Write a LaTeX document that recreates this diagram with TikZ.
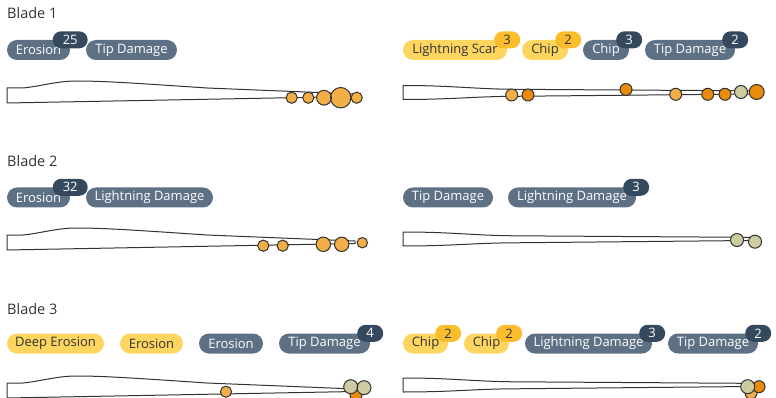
\documentclass[tikz,border=0pt]{standalone}
\usepackage{fontspec}
\setmainfont{Open Sans}
\definecolor{slate}{HTML}{5E7084}
\definecolor{navy}{HTML}{34495E}
\definecolor{paleyel}{HTML}{FDD55F}
\definecolor{deepyel}{HTML}{FBBD2C}
\definecolor{lightorg}{HTML}{F3AE47}
\definecolor{darkorg}{HTML}{EA8A0B}
\definecolor{khaki}{HTML}{CFCBA1}
\definecolor{ink}{HTML}{333333}
\begin{document}
\begin{tikzpicture}[x=1pt,y=-1pt,
    title/.style={anchor=base west,inner sep=0,text=ink,font=\fontsize{14.5}{17}\selectfont},
    tag/.style={fill=slate,text=white,rounded corners=10pt,minimum height=20pt,inner sep=0,font=\fontsize{13}{15}\selectfont},
    tagwarn/.style={tag,fill=paleyel,text=ink},
    count/.style={fill=navy,text=white,rounded corners=8.5pt,minimum height=17pt,minimum width=26pt,inner sep=0,font=\fontsize{13}{15}\selectfont},
    countwarn/.style={count,fill=deepyel,text=ink},
    blade/.style={draw=ink,line width=1pt,fill=white,line join=round},
    dent/.style={draw=ink,line width=1pt},
    minor/.style={dent,fill=lightorg},
    major/.style={dent,fill=darkorg},
    fixed/.style={dent,fill=khaki}]
  \useasboundingbox (0,0) rectangle (776,398);
  \clip (0,0) rectangle (776,398);

  % titles
  \node[title] (t1) at (7,19) {Blade 1};
  \node[title] (t2) at (7,167) {Blade 2};
  \node[title] (t3) at (7,314) {Blade 3};

  % blade outlines
  \foreach \by in {88,235,383}
    \draw[blade,shift={(7,\by)}] (0,0) -- (16,0) .. controls (35,-2) and (50,-7) .. (70,-7)
      .. controls (100,-7) and (140,-4) .. (200,0) -- (348,6) -- (348,8.5) -- (0,15) -- cycle;
  \foreach \by in {85.5,232,378}
    \draw[blade,shift={(403,\by)}] (0,0) .. controls (50,0) and (70,3.5) .. (112,3.8) -- (357,5.4)
      -- (357,8.4) -- (112,10.8) .. controls (70,11) and (50,14) .. (0,14) -- cycle;

  % blade 1
  \node[tag,minimum width=63pt] (e11) at (38.5,50) {Erosion};
  \node[count,minimum width=35pt] (n11) at (e11.north east) {25};
  \node[tag,minimum width=91pt] (e12) at (131.5,50) {Tip Damage};
  \node[tagwarn,minimum width=104pt] (e13) at (455,50) {Lightning Scar};
  \node[countwarn] (n13) at (e13.north east) {3};
  \node[tagwarn,minimum width=46pt] (e14) at (545,50) {Chip};
  \node[countwarn] (n14) at (e14.north east) {2};
  \node[tag,minimum width=46pt] (e15) at (606,50) {Chip};
  \node[count] (n15) at (e15.north east) {3};
  \node[tag,minimum width=90pt] (e16) at (690,50) {Tip Damage};
  \node[count] (n16) at (e16.north east) {2};

  \draw[minor] (291.7,97.7) circle (5.6) (308.3,97.7) circle (5.6) (324,97.7) circle (7.4)
    (340.7,97.7) circle (10.2) (356.7,97.7) circle (5.6);
  \draw[minor] (511.7,95) circle (6) (675.7,94.3) circle (6);
  \draw[major] (528,95) circle (6) (626,89.5) circle (6) (707.7,94.3) circle (6)
    (725,94.3) circle (6);
  \draw[fixed] (741,92) circle (6.5);
  \draw[major] (756.7,92) circle (7.5);

  % blade 2
  \node[tag,minimum width=63pt] (e21) at (38.5,197.5) {Erosion};
  \node[count,minimum width=35pt] (n21) at (e21.north east) {32};
  \node[tag,minimum width=127pt] (e22) at (149.5,197.5) {Lightning Damage};
  \node[tag,minimum width=90pt] (e23) at (448,197.5) {Tip Damage};
  \node[tag,minimum width=128pt] (e24) at (572,197.5) {Lightning Damage};
  \node[count] (n24) at (e24.north east) {3};

  \draw[minor] (263.3,245.7) circle (5.6) (282.7,245.7) circle (5.6) (323.3,244.3) circle (7.2)
    (341.7,244.3) circle (7.2) (362.3,242.7) circle (5.2);
  \draw[fixed] (737,240) circle (6.5) (755,241.7) circle (6.5);

  % blade 3
  \node[tagwarn,minimum width=97pt] (e31) at (55.5,343.5) {Deep Erosion};
  \node[tagwarn,minimum width=63pt] (e32) at (151.5,343.5) {Erosion};
  \node[tag,minimum width=64pt] (e33) at (231,343.5) {Erosion};
  \node[tag,minimum width=91pt] (e34) at (324.5,343.5) {Tip Damage};
  \node[count] (n34) at (e34.north east) {4};
  \node[tagwarn,minimum width=45pt] (e35) at (425.5,343.5) {Chip};
  \node[countwarn] (n35) at (e35.north east) {2};
  \node[tagwarn,minimum width=45pt] (e36) at (486.5,343.5) {Chip};
  \node[countwarn] (n36) at (e36.north east) {2};
  \node[tag,minimum width=127pt] (e37) at (588.5,343.5) {Lightning Damage};
  \node[count] (n37) at (e37.north east) {3};
  \node[tag,minimum width=90pt] (e38) at (713,343.5) {Tip Damage};
  \node[count] (n38) at (e38.north east) {2};

  \draw[minor] (226,391.7) circle (5.6);
  \draw[major] (356,395) circle (6);
  \draw[fixed] (350.7,386.7) circle (7) (364,387.7) circle (7);
  \draw[minor] (751,393) circle (6);
  \draw[major] (759,386.7) circle (6);
  \draw[fixed] (747.7,386.7) circle (7);
\end{tikzpicture}
\end{document}
